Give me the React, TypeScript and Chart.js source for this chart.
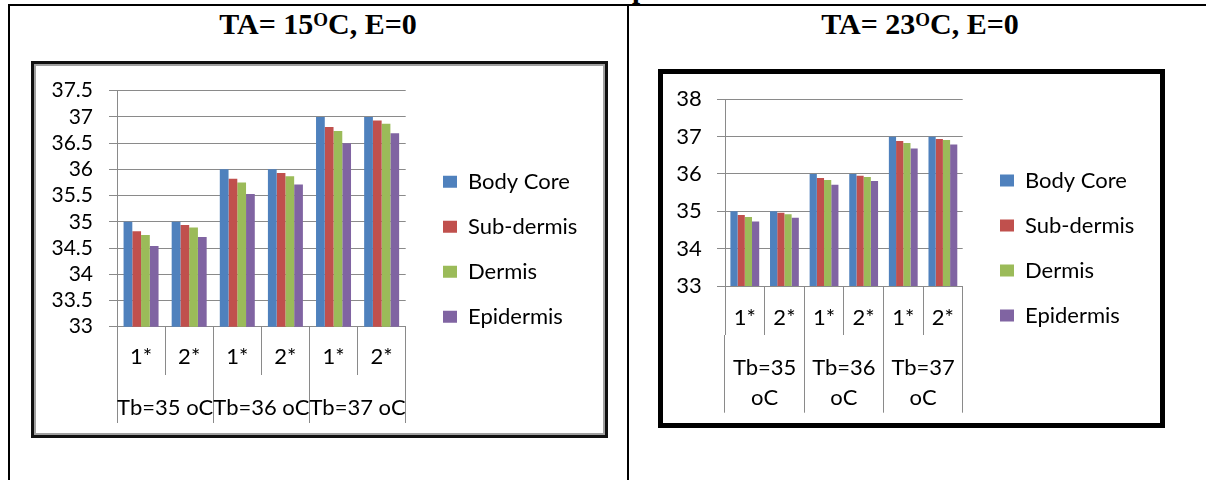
import React, { useEffect, useRef } from 'react';
import { Chart, registerables } from 'chart.js';

Chart.register(...registerables);

// ---------- data ----------
const categories = ['1*', '2*', '1*', '2*', '1*', '2*'];
const groupsLeft = ['Tb=35 oC', 'Tb=36 oC', 'Tb=37 oC'];
const groupsRight = [['Tb=35', 'oC'], ['Tb=36', 'oC'], ['Tb=37', 'oC']];
const seriesNames = ['Body Core', 'Sub-dermis', 'Dermis', 'Epidermis'];
const seriesColors = ['#4F81BD', '#C0504D', '#9BBB59', '#8064A2'];

// TA = 15 oC
const bodyCore15 = [35, 35, 36, 36, 37, 37];
const subDermis15 = [34.82, 34.94, 35.82, 35.93, 36.81, 36.93];
const dermis15 = [34.75, 34.89, 35.75, 35.87, 36.73, 36.87];
const epidermis15 = [34.54, 34.71, 35.53, 35.71, 36.5, 36.69];

// TA = 23 oC
const bodyCore23 = [35, 35, 36, 36, 37, 37];
const subDermis23 = [34.9, 34.96, 35.89, 35.95, 36.88, 36.94];
const dermis23 = [34.85, 34.92, 35.84, 35.92, 36.83, 36.91];
const epidermis23 = [34.73, 34.83, 35.71, 35.81, 36.68, 36.79];

const yRangeLeft = [33, 37.5, 0.5];
const yRangeRight = [33, 38, 1];

// ---------- styling ----------
const FONT = "Lato, 'Open Sans', sans-serif";
const SERIF = "'Times New Roman', 'Liberation Serif', serif";
const GRID = '#8a8a8a';
const LEGEND_FONT = 22;
const LEGEND_PAD = 23;
const LEGEND_BOX = 14;

type Geo = {
  left: number; top: number; W: number; H: number;
  padTop: number; padBottom: number;
  plotTop: number;
  yWidth: number; yPad: number; yFont: number;
  plotRight: number; legendLeft: number;
  x1H: number; x1Pad: number;
  x2Tick: number; x2H: number; x2Pad: number; x2LineHeight: number;
};

const geoLeft: Geo = {
  left: 34, top: 64, W: 571, H: 371,
  padTop: 9.4, padBottom: 10, plotTop: 26.7,
  yWidth: 83, yPad: 16, yFont: 21,
  plotRight: 371.7, legendLeft: 386,
  x1H: 48.3, x1Pad: -31.5,
  x2Tick: 48, x2H: 50, x2Pad: -28.2, x2LineHeight: 1.2,
};

const geoRight: Geo = {
  left: 663, top: 74, W: 497, H: 349,
  padTop: 7, padBottom: 8, plotTop: 25.3,
  yWidth: 62, yPad: 15.3, yFont: 22,
  plotRight: 299.7, legendLeft: 314,
  x1H: 49, x1Pad: -30.2,
  x2Tick: 77.7, x2H: 80, x2Pad: -59.55, x2LineHeight: 1.35,
};

function legendNaturalWidth(): number {
  const ctx = document.createElement('canvas').getContext('2d') as CanvasRenderingContext2D;
  ctx.font = `normal ${LEGEND_FONT}px ${FONT}`;
  let w = 0;
  for (const n of seriesNames) w = Math.max(w, ctx.measureText(n).width);
  return LEGEND_PAD + LEGEND_BOX + LEGEND_FONT / 2 + w + 10;
}

type Props = {
  geo: Geo;
  values: number[][];
  groups: (string | string[])[];
  yRange: number[];
};

function BarChart({ geo, values, groups, yRange }: Props) {
  const ref = useRef<HTMLCanvasElement>(null);
  useEffect(() => {
    const g = geo;
    const legendW = legendNaturalWidth();
    const padRight = g.W - g.legendLeft - legendW;
    const gap = g.legendLeft - g.plotRight;
    const setPad = (s: any, top = 0) => {
      s.paddingLeft = 0;
      s.paddingRight = 0;
      s.paddingTop = top;
      s.paddingBottom = 0;
    };
    const chart = new Chart(ref.current as HTMLCanvasElement, {
      type: 'bar',
      data: {
        labels: categories,
        datasets: seriesNames.map((name, i) => ({
          label: name,
          data: values[i],
          backgroundColor: seriesColors[i],
          borderWidth: 0,
          categoryPercentage: 4 / 5.5,
          barPercentage: 1,
          xAxisID: 'x',
          yAxisID: 'y',
        })),
      },
      options: {
        responsive: false,
        animation: false,
        layout: { padding: { top: g.padTop, bottom: g.padBottom, left: 0, right: padRight } },
        plugins: {
          legend: {
            position: 'right',
            maxWidth: 2000,
            labels: {
              boxWidth: LEGEND_BOX,
              boxHeight: 12,
              padding: LEGEND_PAD,
              color: '#000',
              font: { family: FONT, size: LEGEND_FONT },
            },
          },
          tooltip: { enabled: false },
        },
        scales: {
          y: {
            type: 'linear',
            min: yRange[0],
            max: yRange[1],
            ticks: {
              stepSize: yRange[2],
              autoSkip: false,
              padding: g.yPad,
              color: '#000',
              font: { family: FONT, size: g.yFont, lineHeight: 1 },
              callback: (v: any) => String(v),
            },
            grid: { color: GRID, tickLength: 8, lineWidth: 1 },
            border: { color: GRID },
            afterFit: (s: any) => { s.width = g.yWidth; setPad(s, g.plotTop); },
          },
          x: {
            type: 'category',
            position: 'bottom',
            weight: 1,
            offset: true,
            grid: { offset: true, drawOnChartArea: false, tickLength: g.x1H, color: GRID },
            border: { color: GRID },
            ticks: {
              padding: g.x1Pad,
              color: '#000',
              font: { family: FONT, size: 22 },
              maxRotation: 0,
              autoSkip: false,
            },
            afterFit: (s: any) => { s.height = g.x1H; setPad(s); },
          },
          x2: {
            type: 'category',
            labels: groups as any,
            position: 'bottom',
            weight: 2,
            offset: true,
            grid: { offset: true, drawOnChartArea: false, tickLength: g.x2Tick, color: GRID },
            border: { display: false },
            ticks: {
              padding: g.x2Pad,
              color: '#000',
              font: { family: FONT, size: 22, lineHeight: g.x2LineHeight },
              maxRotation: 0,
              autoSkip: false,
            },
            afterFit: (s: any) => { s.height = g.x2H; setPad(s); },
          },
          yGap: {
            type: 'linear',
            position: 'right',
            display: true,
            grid: { display: false },
            ticks: { display: false },
            border: { display: false },
            afterFit: (s: any) => { s.width = gap; setPad(s); },
          },
        } as any,
      } as any,
    });
    return () => chart.destroy();
  }, []);
  return (
    <canvas
      ref={ref}
      width={geo.W}
      height={geo.H}
      style={{ position: 'absolute', left: geo.left, top: geo.top, width: geo.W, height: geo.H }}
    />
  );
}

function Title({ center, temp }: { center: number; temp: string }) {
  return (
    <div
      style={{
        position: 'absolute',
        left: center - 200,
        width: 400,
        top: 9,
        textAlign: 'center',
        fontFamily: SERIF,
        fontWeight: 'bold',
        fontSize: 30,
        lineHeight: '30px',
        color: '#000',
        whiteSpace: 'nowrap',
      }}
    >
      {`TA= ${temp}`}
      <span style={{ fontSize: 19, position: 'relative', top: -8 }}>O</span>
      {'C, E=0'}
    </div>
  );
}

export default function App() {
  return (
    <div
      style={{
        position: 'absolute',
        left: 0,
        top: 0,
        width: 1206,
        height: 480,
        overflow: 'hidden',
        background: '#fff',
      }}
    >
      {/* cropped caption fragment */}
      <div
        style={{
          position: 'absolute', left: 632, top: -26.3, fontFamily: SERIF, fontWeight: 'bold',
          fontSize: 29, lineHeight: '29px', color: '#000',
        }}
      >
        p
      </div>
      {/* table borders */}
      <div style={{ position: 'absolute', left: 8, top: 4, width: 1198, height: 2, background: '#000' }} />
      <div style={{ position: 'absolute', left: 8, top: 4, width: 2, height: 476, background: '#000' }} />
      <div style={{ position: 'absolute', left: 627, top: 4, width: 2, height: 476, background: '#000' }} />

      <Title center={318} temp="15" />
      <Title center={920} temp="23" />

      {/* left chart frame */}
      <div
        style={{
          position: 'absolute', left: 31, top: 61, width: 577, height: 377, boxSizing: 'border-box',
          border: '3px solid #111', boxShadow: 'inset 0 0 0 2px #a0a0a0',
        }}
      />
      {/* right chart frame */}
      <div
        style={{
          position: 'absolute', left: 658, top: 69, width: 507, height: 359, boxSizing: 'border-box',
          border: '5px solid #000',
        }}
      />

      <BarChart
        geo={geoLeft}
        values={[bodyCore15, subDermis15, dermis15, epidermis15]}
        groups={groupsLeft}
        yRange={yRangeLeft}
      />
      <BarChart
        geo={geoRight}
        values={[bodyCore23, subDermis23, dermis23, epidermis23]}
        groups={groupsRight}
        yRange={yRangeRight}
      />
    </div>
  );
}
